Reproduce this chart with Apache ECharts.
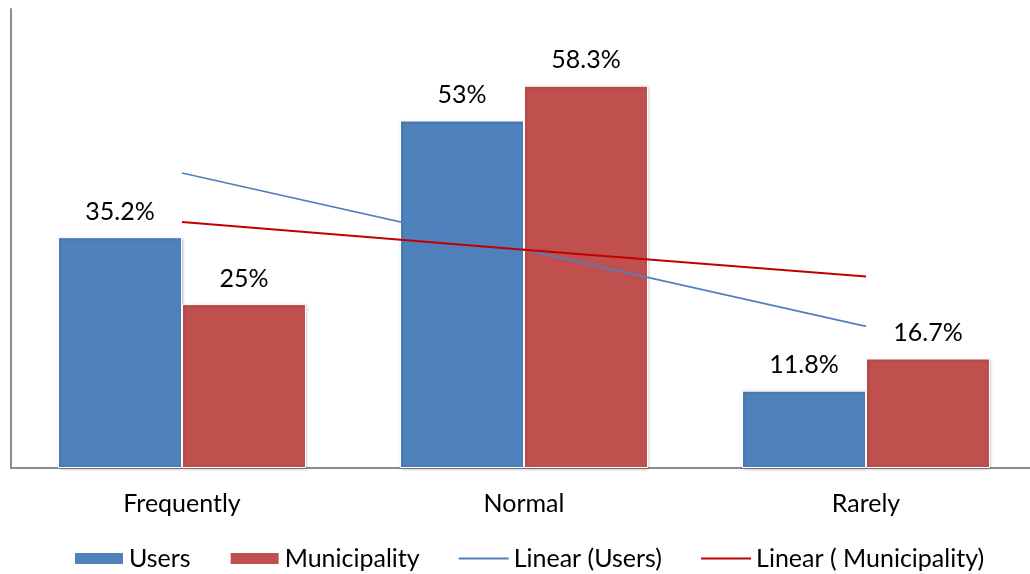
<!DOCTYPE html>
<html>
<head>
<meta charset="utf-8">
<script src="https://cdn.jsdelivr.net/npm/echarts@6/dist/echarts.min.js"></script>
<style>
  html, body { margin: 0; padding: 0; background: #fff; }
  #chart { width: 1030px; height: 574px; }
</style>
</head>
<body>
<div id="chart"></div>
<script>
// Usage frequency, in percent
const categories = ['Frequently', 'Normal', 'Rarely'];
const usersValues = [35.2, 53, 11.8];
const municipalityValues = [25, 58.3, 16.7];
// Linear trend values at each category
const usersTrend = [45.0, 33.3, 21.6];
const municipalityTrend = [37.5, 33.3, 29.2];

const FONT = 'Lato, "Liberation Sans", sans-serif';
const FONT_SIZE = 25;
const BLUE = '#4F81BD';
const RED = '#C0504D';
const DARK_RED = '#C00000';

const chart = echarts.init(document.getElementById('chart'), null, { renderer: 'canvas' });

const barLabel = {
  show: true,
  position: 'top',
  distance: 13,
  fontFamily: FONT,
  fontSize: FONT_SIZE,
  color: '#000',
  formatter: p => p.value + '%'
};

const barShadow = {
  borderColor: '#fff',
  borderWidth: 1,
  shadowColor: 'rgba(0,0,0,0.25)',
  shadowBlur: 3,
  shadowOffsetX: 1,
  shadowOffsetY: 1
};

chart.setOption({
  animation: false,
  textStyle: { fontFamily: FONT },
  grid: {
    left: 11, width: 1026, top: 9, bottom: 106,
    containLabel: false, outerBoundsMode: 'none'
  },
  legend: {
    left: 68,
    top: 541,
    itemWidth: 50,
    itemHeight: 13,
    itemGap: 38,
    textStyle: { fontFamily: FONT, fontSize: FONT_SIZE, color: '#000' },
    data: [
      { name: 'Users', icon: 'rect' },
      { name: 'Municipality', icon: 'rect' },
      { name: 'Linear (Users)', itemStyle: { opacity: 0 } },
      { name: 'Linear ( Municipality)', itemStyle: { opacity: 0 } }
    ]
  },
  xAxis: {
    type: 'category',
    data: categories,
    boundaryGap: true,
    axisLine: { show: true, lineStyle: { color: '#8C8C8C', width: 2 } },
    axisTick: { show: false },
    axisLabel: { margin: 23, fontFamily: FONT, fontSize: FONT_SIZE, color: '#000' },
    splitLine: { show: false }
  },
  yAxis: {
    type: 'value',
    min: 0,
    max: 70,
    interval: 10,
    axisLine: { show: true, lineStyle: { color: '#8C8C8C', width: 2 } },
    axisTick: { show: false },
    axisLabel: { show: false },
    splitLine: { show: false }
  },
  series: [
    {
      name: 'Users',
      type: 'bar',
      data: usersValues,
      barGap: '0%',
      barCategoryGap: '27.5%',
      itemStyle: Object.assign({ color: BLUE }, barShadow),
      label: barLabel
    },
    {
      name: 'Municipality',
      type: 'bar',
      data: municipalityValues,
      barGap: '0%',
      barCategoryGap: '27.5%',
      itemStyle: Object.assign({ color: RED }, barShadow),
      label: barLabel
    },
    {
      name: 'Linear (Users)',
      type: 'line',
      data: usersTrend,
      symbol: 'none',
      z: 5,
      lineStyle: { color: BLUE, width: 1.6 },
      itemStyle: { color: BLUE }
    },
    {
      name: 'Linear ( Municipality)',
      type: 'line',
      data: municipalityTrend,
      symbol: 'none',
      z: 5,
      lineStyle: { color: DARK_RED, width: 2 },
      itemStyle: { color: DARK_RED }
    }
  ]
});
</script>
</body>
</html>
